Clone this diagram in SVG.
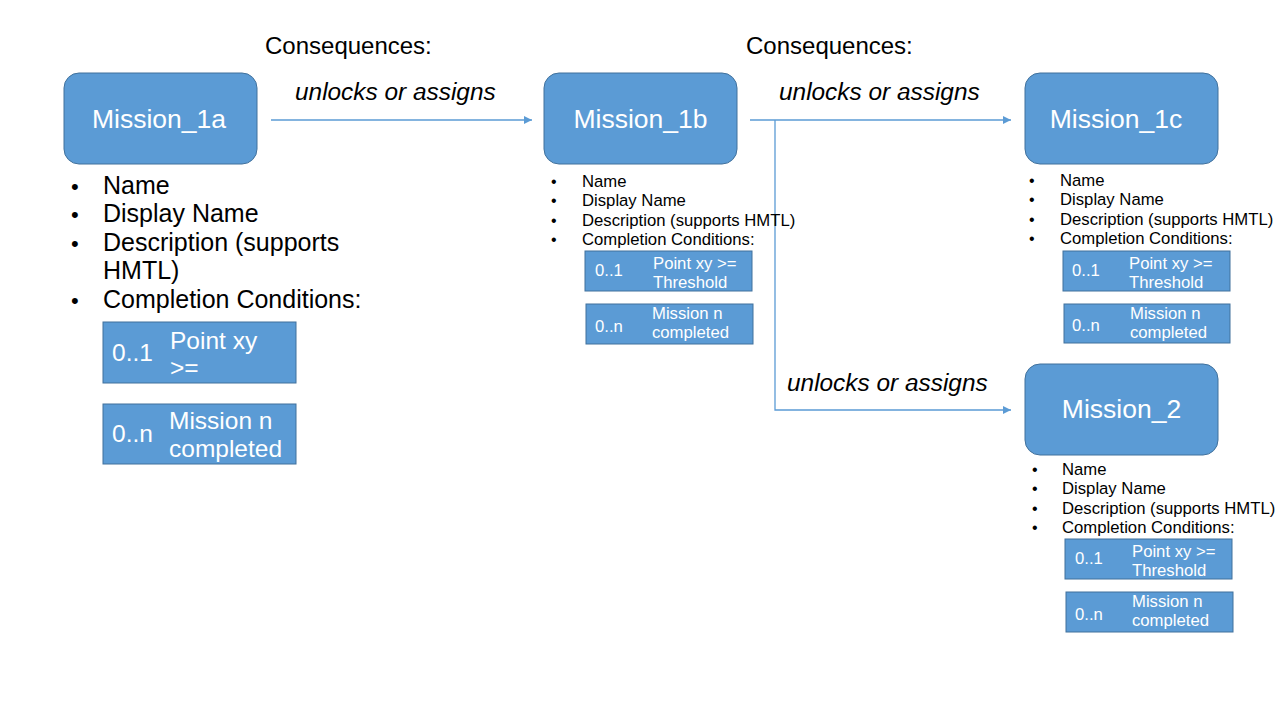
<svg xmlns="http://www.w3.org/2000/svg" width="1280" height="720" viewBox="0 0 1280 720">
<style>
text{font-family:"Liberation Sans",Arial,sans-serif;fill:#000}
.node{fill:#5B9BD5;stroke:#41719C;stroke-width:1}
.cond{fill:#5B9BD5;stroke:#41719C;stroke-width:1}
.title{fill:#fff;font-size:26.5px}
.wt{fill:#fff}
.big{font-size:24px}
.list{font-size:25px}
.cbig{font-size:24.5px}
.small{font-size:16.7px}
.lbl{font-size:24.4px;font-style:italic}
.bul{font-size:22px}
.sbul{font-size:16px}
.conn{stroke:#5B9BD5;stroke-width:1.3;fill:none}
</style>
<defs>
<marker id="arr" viewBox="0 0 10 10" refX="10" refY="5" markerWidth="8" markerHeight="8" markerUnits="userSpaceOnUse" orient="auto">
<path d="M0,0 L10,5 L0,10 z" fill="#5B9BD5"/>
</marker>
</defs>
<rect width="1280" height="720" fill="#fff"/>

<text x="265" y="54" class="big">Consequences:</text>
<text x="746" y="54" class="big">Consequences:</text>

<g id="connectors">
<line class="conn" x1="271" y1="120" x2="532" y2="120" marker-end="url(#arr)"/>
<line class="conn" x1="750" y1="120" x2="1011" y2="120" marker-end="url(#arr)"/>
<polyline class="conn" points="775,120 775,410 1011,410" marker-end="url(#arr)"/>
<text x="295" y="100" class="lbl">unlocks or assigns</text>
<text x="779" y="100" class="lbl">unlocks or assigns</text>
<text x="787" y="391" class="lbl">unlocks or assigns</text>
</g>

<g id="mission_1a">
<rect class="node" x="64" y="73" width="193" height="91" rx="15"/>
<text x="159" y="128" class="title" text-anchor="middle">Mission_1a</text>
<g class="bul">
<text x="71" y="194">•</text>
<text x="71" y="222">•</text>
<text x="71" y="251">•</text>
<text x="71" y="308">•</text>
</g>
<g class="list">
<text x="103" y="194">Name</text>
<text x="103" y="222">Display Name</text>
<text x="103" y="251">Description (supports</text>
<text x="103" y="279">HMTL)</text>
<text x="103" y="308">Completion Conditions:</text>
</g>
<rect class="cond" x="103" y="322" width="193" height="61"/>
<text x="112" y="361" class="cbig wt">0..1</text>
<text x="170" y="349" class="cbig wt">Point xy</text>
<text x="170" y="376" class="cbig wt">&gt;=</text>
<rect class="cond" x="103" y="404" width="193" height="60"/>
<text x="112" y="442" class="cbig wt">0..n</text>
<text x="169" y="429" class="cbig wt">Mission n</text>
<text x="169" y="457" class="cbig wt">completed</text>
</g>

<g id="mission_1b">
<rect class="node" x="544" y="73" width="193" height="91" rx="15"/>
<text x="640.5" y="128" class="title" text-anchor="middle">Mission_1b</text>
<g class="sbul">
<text x="551" y="187">•</text>
<text x="551" y="206">•</text>
<text x="551" y="226">•</text>
<text x="551" y="245">•</text>
</g>
<g class="small">
<text x="582" y="187">Name</text>
<text x="582" y="206">Display Name</text>
<text x="582" y="226">Description (supports HMTL)</text>
<text x="582" y="245">Completion Conditions:</text>
</g>
<rect class="cond" x="585" y="251" width="167" height="40"/>
<text x="595" y="276" class="small wt">0..1</text>
<text x="653" y="269" class="small wt">Point xy &gt;=</text>
<text x="653" y="288" class="small wt">Threshold</text>
<rect class="cond" x="586" y="304" width="167" height="40"/>
<text x="595" y="332" class="small wt">0..n</text>
<text x="652" y="319" class="small wt">Mission n</text>
<text x="652" y="338" class="small wt">completed</text>
</g>

<g id="mission_1c">
<rect class="node" x="1025" y="73" width="193" height="91" rx="15"/>
<text x="1116" y="128" class="title" text-anchor="middle">Mission_1c</text>
<g class="sbul">
<text x="1029" y="186">•</text>
<text x="1029" y="205">•</text>
<text x="1029" y="225">•</text>
<text x="1029" y="244">•</text>
</g>
<g class="small">
<text x="1060" y="186">Name</text>
<text x="1060" y="205">Display Name</text>
<text x="1060" y="225">Description (supports HMTL)</text>
<text x="1060" y="244">Completion Conditions:</text>
</g>
<rect class="cond" x="1063" y="251" width="167" height="40"/>
<text x="1072" y="276" class="small wt">0..1</text>
<text x="1129" y="269" class="small wt">Point xy &gt;=</text>
<text x="1129" y="288" class="small wt">Threshold</text>
<rect class="cond" x="1064" y="304" width="166" height="39"/>
<text x="1072" y="331" class="small wt">0..n</text>
<text x="1130" y="319" class="small wt">Mission n</text>
<text x="1130" y="338" class="small wt">completed</text>
</g>

<g id="mission_2">
<rect class="node" x="1025" y="364" width="193" height="91" rx="15"/>
<text x="1121.5" y="418" class="title" text-anchor="middle">Mission_2</text>
<g class="sbul">
<text x="1032" y="475">•</text>
<text x="1032" y="494">•</text>
<text x="1032" y="514">•</text>
<text x="1032" y="533">•</text>
</g>
<g class="small">
<text x="1062" y="475">Name</text>
<text x="1062" y="494">Display Name</text>
<text x="1062" y="514">Description (supports HMTL)</text>
<text x="1062" y="533">Completion Conditions:</text>
</g>
<rect class="cond" x="1065" y="539" width="167" height="40"/>
<text x="1075" y="564" class="small wt">0..1</text>
<text x="1132" y="557" class="small wt">Point xy &gt;=</text>
<text x="1132" y="576" class="small wt">Threshold</text>
<rect class="cond" x="1066" y="592" width="167" height="40"/>
<text x="1075" y="620" class="small wt">0..n</text>
<text x="1132" y="607" class="small wt">Mission n</text>
<text x="1132" y="626" class="small wt">completed</text>
</g>
</svg>
